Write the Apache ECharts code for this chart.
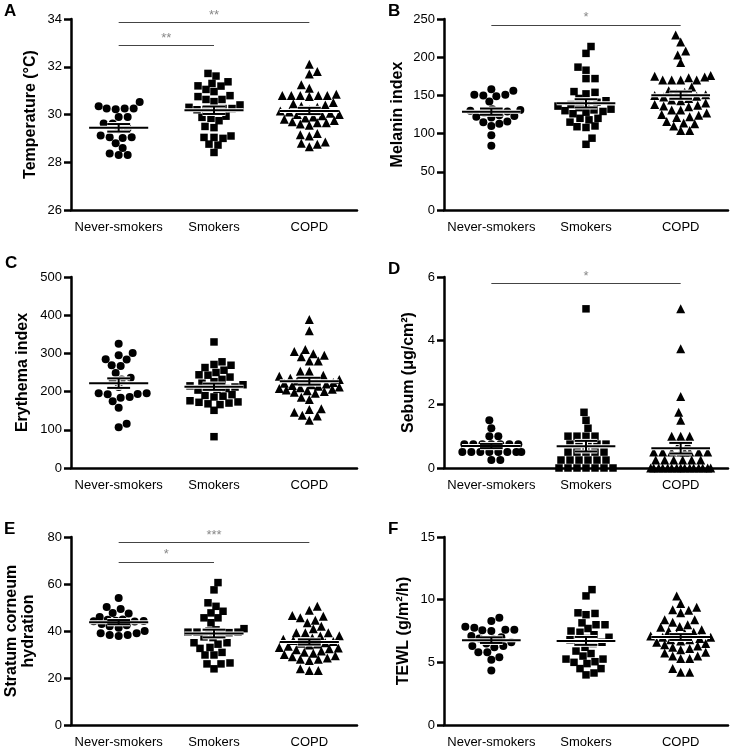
<!DOCTYPE html>
<html><head><meta charset="utf-8">
<script src="https://cdn.jsdelivr.net/npm/echarts@6/dist/echarts.min.js"></script>
<style>html,body{margin:0;padding:0;background:#fff}#c{width:730px;height:749px}</style>
</head><body><div id="c"></div>
<script>
// ---------- DATA ----------
const categories = ['Never-smokers', 'Smokers', 'COPD'];

const tempNever   = [30.52,30.25,30.25,30.22,30.25,30.35,29.9,29.9,29.62,29.62,29.42,29.38,29.05,29.02,29.05,29.12,28.8,28.6,28.37,28.3,28.3];
const tempSmokers = [31.72,31.61,31.37,31.2,31.19,31.3,31.05,30.96,30.75,30.79,30.63,30.63,30.4,30.54,30.25,30.2,30.15,30.2,30.25,30.3,29.93,29.88,29.84,29.74,29.45,29.5,29.0,29.04,29.04,29.1,28.76,28.72,28.41];
const tempCOPD    = [32.1,31.8,31.7,31.25,31.1,30.8,30.8,30.75,30.8,30.85,30.8,30.8,30.5,30.45,30.4,30.35,30.3,30.2,30.15,30.1,30.05,30.0,30.0,29.95,29.9,29.85,29.8,29.75,29.7,29.65,29.55,29.6,29.65,29.1,29.2,29.15,28.8,28.75,28.85,28.65];

const melNever   = [158,151,150,149,151,156,142,131,130,132,129,127,124,123,122,121,115,113,116,110,98,84];
const melSmokers = [214,205,183,187,172,172,155,152,154,146,143,141,140,138,136,134,132,131,130,129,128,126,120,118,120,115,109,108,110,86,94];
const melCOPD    = [229,220,208,203,193,176,175,174,173,170,170,170,170,161,156,154,152,151,150,149,148,146,144,143,140,138,137,136,135,131,131,127,125,124,122,121,116,114,113,110,104,104];

const eryNever   = [325,295,301,285,284,267,269,249,236,232,228,212,196,194,196,193,186,184,175,158,116,107];
const erySmokers = [330,278,269,263,271,256,250,244,243,238,232,226,222,218,215,212,210,208,206,204,192,190,188,186,172,170,168,166,173,176,151,82];
const eryCOPD    = [389,359,310,305,299,295,291,280,280,253,253,243,240,235,232,230,228,226,224,222,220,218,216,214,212,210,208,206,204,202,200,198,196,185,179,153,146,138,136,125,155];

const sebNever   = [1.5,1.25,1.0,1.0,0.75,0.75,0.75,0.75,0.75,0.75,0.75,0.5,0.5,0.5,0.5,0.5,0.5,0.5,0.5,0.25,0.25];
const sebSmokers = [5.0,1.75,1.5,1.25,1.0,1.0,1.0,1.0,0.75,0.75,0.75,0.75,0.75,0.5,0.5,0.5,0.5,0.5,0.25,0.25,0.25,0.25,0.25,0.25,0,0,0,0,0,0,0];
const sebCOPD    = [5.0,3.75,2.25,1.75,1.5,1.0,1.0,1.0,0.75,0.75,0.5,0.5,0.5,0.5,0.5,0.5,0.5,0.5,0.25,0.25,0.25,0.25,0.25,0.25,0,0,0,0,0,0,0,0,0,0,0,0,0,0,0];

const hydNever   = [54,49.4,50.2,47.4,47.7,46,44.8,44.3,44.2,44.0,44.4,44.9,43,42.5,41.4,42,39,38.3,37.9,38.3,39,40];
const hydSmokers = [60.6,57.5,52,50.5,47.7,48.4,45.6,45.6,43.5,41,40.5,40,39.5,39.5,39.3,39.5,38.5,37.5,37.2,35,35,33,32.6,34.4,30.9,29.8,29.8,26.4,26,26,23.9];
const hydCOPD    = [50.5,48.8,46.3,45.6,46.6,44.6,43.5,42,41,39.3,39.3,39.3,38,37.9,37,36.5,36,35.5,35,34.8,34.5,34,33.5,33,32.8,32.5,32,31.5,31,30.5,30,29.5,29,28.5,28,28,27.5,23.9,23.2,23.2];

const tewlNever   = [8.55,8.3,7.84,7.6,7.55,7.5,7.6,7.75,7.1,7.0,6.9,6.85,6.6,6.5,6.3,6.3,6.2,5.8,5.8,5.2,5.4,4.34];
const tewlSmokers = [10.8,10.3,8.9,8.95,8.8,8.15,8.0,8.0,7.5,7.4,7.2,7.7,7.0,6.9,6.8,6.6,6.5,6.6,6.2,5.9,5.7,5.5,4.9,5.05,5.0,5.26,5.26,4.5,4.5,4.0,4.15];
const tewlCOPD    = [10.3,9.7,9.4,9.2,9.15,8.95,8.4,8.4,8.2,8.0,7.85,7.8,7.6,7.5,7.4,7.3,7.2,7.1,7.0,6.9,6.8,6.7,6.6,6.5,6.4,6.3,6.2,6.1,6.0,5.8,5.74,5.5,5.5,5.3,5.3,4.5,4.2,4.2,7.0,6.8];

// y-axis ticks: [min, max, interval]
const ticksA = [26, 34, 2];
const ticksB = [0, 250, 50];
const ticksC = [0, 500, 100];
const ticksD = [0, 6, 2];
const ticksE = [0, 80, 20];
const ticksF = [0, 15, 5];

// significance brackets: [fromGroup, toGroup, yValue, label]
const sigA = [[0, 2, 33.85, '**'], [0, 1, 32.88, '**']];
const sigB = [[0, 2, 242, '*']];
const sigC = [];
const sigD = [[0, 2, 5.79, '*']];
const sigE = [[0, 2, 77.6, '***'], [0, 1, 69.2, '*']];
const sigF = [];

const titles = ['Temperature (°C)', 'Melanin index', 'Erythema index', 'Sebum (μg/cm²)', 'Stratum corneum\nhydration', 'TEWL (g/m²/h)'];
const letters = ['A', 'B', 'C', 'D', 'E', 'F'];

// ---------- LAYOUT / STYLE ----------
const FONT = 'Liberation Sans, Arial, sans-serif';
const panels = [
  { data: [tempNever, tempSmokers, tempCOPD], ticks: ticksA, sig: sigA, grid: { left: 71, top: 19, width: 286, height: 191 }, nameGap: 32, letter: [4, 3] },
  { data: [melNever, melSmokers, melCOPD],   ticks: ticksB, sig: sigB, grid: { left: 444, top: 19, width: 284, height: 191 }, nameGap: 38, letter: [388, 3] },
  { data: [eryNever, erySmokers, eryCOPD],   ticks: ticksC, sig: sigC, grid: { left: 71, top: 277, width: 286, height: 191 }, nameGap: 40, letter: [5, 255] },
  { data: [sebNever, sebSmokers, sebCOPD],   ticks: ticksD, sig: sigD, grid: { left: 444, top: 277, width: 284, height: 191 }, nameGap: 27, letter: [388, 261] },
  { data: [hydNever, hydSmokers, hydCOPD],   ticks: ticksE, sig: sigE, grid: { left: 71, top: 537, width: 286, height: 190 }, nameGap: 34, letter: [4, 521] },
  { data: [tewlNever, tewlSmokers, tewlCOPD], ticks: ticksF, sig: sigF, grid: { left: 444, top: 537, width: 284, height: 190 }, nameGap: 32, letter: [388, 521] }
];
const symbols = ['circle', 'rect', 'triangle'];
const symbolSizes = [8, 7.5, 9];

// beeswarm layout in pixel space (offsets from group centre)
function swarm(values, pxPerUnit, diam, maxHalf) {
  const order = values.map((v, i) => i).sort((a, b) => values[a] - values[b]);
  const placed = [];
  const off = new Array(values.length);
  let flip = 1;
  for (const i of order) {
    const y = values[i] * pxPerUnit;
    let best = 0, bestScore = -1, done = false;
    for (let d = 0; d <= maxHalf && !done; d++) {
      const cands = d === 0 ? [0] : [flip * d, -flip * d];
      for (const x of cands) {
        let minD = Infinity;
        for (const p of placed) {
          const dx = p.x - x, dy = p.y - y;
          const dist = Math.sqrt(dx * dx + dy * dy);
          if (dist < minD) minD = dist;
        }
        if (minD >= diam) { best = x; done = true; break; }
        if (minD > bestScore) { bestScore = minD; best = x; }
      }
    }
    if (best !== 0) flip = best > 0 ? -1 : 1;
    placed.push({ x: best, y });
    off[i] = best;
  }
  return off;
}

function meanSem(arr) {
  const n = arr.length;
  const m = arr.reduce((a, b) => a + b, 0) / n;
  const sd = Math.sqrt(arr.reduce((a, b) => a + (b - m) * (b - m), 0) / (n - 1));
  return [m, sd / Math.sqrt(n)];
}

const option = {
  animation: false,
  backgroundColor: '#fff',
  textStyle: { fontFamily: FONT },
  title: [], grid: [], xAxis: [], yAxis: [], series: []
};

panels.forEach((p, k) => {
  const [ymin, ymax, yint] = p.ticks;
  option.grid.push(p.grid);
  option.title.push({
    text: letters[k], left: p.letter[0], top: p.letter[1], padding: 0,
    textStyle: { fontSize: 17, fontWeight: 'bold', color: '#000', fontFamily: FONT }
  });
  // visible category axis
  option.xAxis.push({
    type: 'category', gridIndex: k, data: categories, position: 'bottom',
    axisLine: { onZero: false, lineStyle: { color: '#000', width: 2.5 } },
    axisTick: { alignWithLabel: true, length: 7, lineStyle: { color: '#000', width: 2.5 } },
    axisLabel: { interval: 0, color: '#000', fontSize: 13, margin: 11, fontFamily: FONT },
    splitLine: { show: false }
  });
  // hidden value axis for point placement
  option.xAxis.push({ type: 'value', gridIndex: k, min: -0.5, max: 2.5, show: false, axisLine: { onZero: false } });
  option.yAxis.push({
    type: 'value', gridIndex: k, min: ymin, max: ymax, interval: yint, position: 'left',
    name: titles[k], nameLocation: 'middle', nameGap: p.nameGap,
    nameTextStyle: { fontSize: 16, fontWeight: 'bold', color: '#000', fontFamily: FONT, lineHeight: 17 },
    axisLine: { show: true, onZero: false, lineStyle: { color: '#000', width: 2.5 } },
    axisTick: { show: true, length: 7, lineStyle: { color: '#000', width: 2.5 } },
    axisLabel: { color: '#000', fontSize: 13, margin: 9, fontFamily: FONT },
    splitLine: { show: false }
  });
  const pxPerUnit = p.grid.height / (ymax - ymin);
  const pxPerCat = p.grid.width / 3;
  const xIdx = 2 * k + 1;
  const stats = [];
  p.data.forEach((vals, g) => {
    const off = swarm(vals, pxPerUnit, 8.2, 30);
    option.series.push({
      type: 'scatter', xAxisIndex: xIdx, yAxisIndex: k,
      symbol: symbols[g], symbolSize: symbolSizes[g],
      itemStyle: { color: '#000', opacity: 1 },
      data: vals.map((v, i) => [g + off[i] / pxPerCat, v]),
      silent: true, z: 2
    });
    const [m, s] = meanSem(vals);
    stats.push([g, m, s]);
  });
  // mean ± SEM (black with thin white halo)
  option.series.push({
    type: 'custom', xAxisIndex: xIdx, yAxisIndex: k, z: 3, silent: true,
    data: stats,
    renderItem: function (params, api) {
      const x = api.value(0), m = api.value(1), s = api.value(2);
      const c = api.coord([x, m]), hi = api.coord([x, m + s]), lo = api.coord([x, m - s]);
      const w = api.size([1, 0])[0];
      const half = w * 0.31, cap = w * 0.12;
      const segs = [
        [c[0] - half, c[1], c[0] + half, c[1]],
        [c[0], hi[1], c[0], lo[1]],
        [c[0] - cap, hi[1], c[0] + cap, hi[1]],
        [c[0] - cap, lo[1], c[0] + cap, lo[1]]
      ];
      const children = [];
      segs.forEach(sg => children.push({ type: 'line', shape: { x1: sg[0], y1: sg[1], x2: sg[2], y2: sg[3] }, style: { stroke: '#fff', lineWidth: 4 } }));
      segs.forEach(sg => children.push({ type: 'line', shape: { x1: sg[0], y1: sg[1], x2: sg[2], y2: sg[3] }, style: { stroke: '#000', lineWidth: 2 } }));
      return { type: 'group', children };
    }
  });
  // significance brackets
  if (p.sig.length) {
    option.series.push({
      type: 'scatter', xAxisIndex: xIdx, yAxisIndex: k, data: [], silent: true, clip: false,
      markLine: {
        silent: true, symbol: 'none', animation: false,
        lineStyle: { color: '#444', width: 1.1, type: 'solid' },
        label: { show: true, position: 'middle', formatter: '{b}', color: '#888', fontSize: 13, distance: 1, fontFamily: FONT },
        emphasis: { disabled: true },
        data: p.sig.map(s => [{ coord: [s[0], s[2]], name: s[3] }, { coord: [s[1], s[2]] }])
      }
    });
  }
});

const chart = echarts.init(document.getElementById('c'), null, { renderer: 'canvas' });
chart.setOption(option);
</script>
</body></html>
